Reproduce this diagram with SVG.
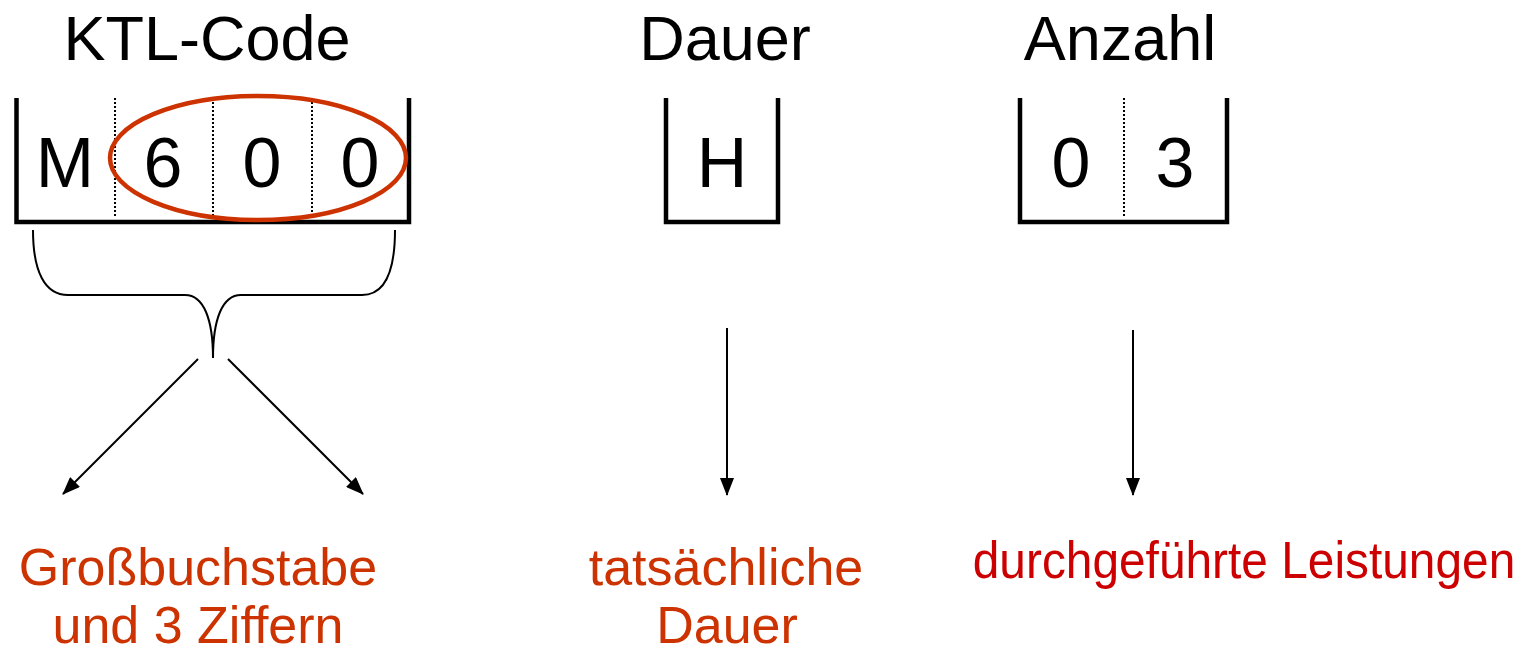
<svg xmlns="http://www.w3.org/2000/svg" width="1530" height="654" viewBox="0 0 1530 654">
  <style>
    .title { font-family: "Liberation Sans", Arial, sans-serif; font-size: 63px; fill: #000; text-anchor: middle; }
    .cell { font-family: "Liberation Sans", Arial, sans-serif; font-size: 70px; fill: #000; text-anchor: middle; }
    .note { font-family: "Liberation Sans", Arial, sans-serif; font-size: 52px; fill: #CC3300; text-anchor: middle; }
    .note-red { fill: #CC0000; }
    .wall { fill: none; stroke: #000; stroke-width: 4.5; }
    .sep { stroke: #000; stroke-width: 2; stroke-dasharray: 2 2; }
    .conn { fill: none; stroke: #000; stroke-width: 2; }
  </style>
  <defs>
    <marker id="arrow" viewBox="0 0 18 14" refX="17" refY="7" markerWidth="18" markerHeight="14" markerUnits="userSpaceOnUse" orient="auto">
      <path d="M0,0 L18,7 L0,14 Z" fill="#000"/>
    </marker>
  </defs>

  <rect width="1530" height="654" fill="#fff"/>

  <!-- KTL code field -->
  <g id="ktl-code">
    <text class="title" x="207" y="60">KTL-Code</text>
    <path class="wall" d="M16.5,98 V222 H409 V98"/>
    <line class="sep" x1="115" y1="98" x2="115" y2="218"/>
    <line class="sep" x1="213" y1="98" x2="213" y2="218"/>
    <line class="sep" x1="312" y1="98" x2="312" y2="218"/>
    <text class="cell" x="65" y="187">M</text>
    <text class="cell" x="163" y="187">6</text>
    <text class="cell" x="262" y="187">0</text>
    <text class="cell" x="360" y="187">0</text>
    <ellipse cx="258" cy="158" rx="148" ry="62" fill="none" stroke="#CC3300" stroke-width="4.5"/>
  </g>

  <!-- duration field -->
  <g id="dauer">
    <text class="title" x="725" y="60">Dauer</text>
    <path class="wall" d="M666,98 V222 H778 V98"/>
    <text class="cell" x="722" y="187">H</text>
  </g>

  <!-- count field -->
  <g id="anzahl">
    <text class="title" x="1120" y="60">Anzahl</text>
    <path class="wall" d="M1020,98 V222 H1227 V98"/>
    <line class="sep" x1="1124" y1="98" x2="1124" y2="218"/>
    <text class="cell" x="1071" y="187">0</text>
    <text class="cell" x="1175" y="187">3</text>
  </g>

  <!-- connectors -->
  <g id="connectors">
    <path class="conn" d="M33,230 C33,272 45,295 68,295 L185,295 C204,295 213,320 213,358 C213,320 222,295 241,295 L362,295 C385,295 395,272 395,230"/>
    <line class="conn" x1="198" y1="359" x2="63" y2="494" marker-end="url(#arrow)"/>
    <line class="conn" x1="228" y1="359" x2="363" y2="494" marker-end="url(#arrow)"/>
    <line class="conn" x1="727" y1="328" x2="727" y2="495" marker-end="url(#arrow)"/>
    <line class="conn" x1="1133" y1="330" x2="1133" y2="495" marker-end="url(#arrow)"/>
  </g>

  <!-- descriptions -->
  <g id="desc-ktl">
    <text class="note" x="198" y="585">Großbuchstabe</text>
    <text class="note" x="198" y="643">und 3 Ziffern</text>
  </g>
  <g id="desc-dauer">
    <text class="note" x="726" y="585">tatsächliche</text>
    <text class="note" x="727" y="643">Dauer</text>
  </g>
  <g id="desc-anzahl">
    <text class="note note-red" transform="translate(1244,578) scale(0.92,1)" x="0" y="0">durchgeführte Leistungen</text>
  </g>
</svg>
